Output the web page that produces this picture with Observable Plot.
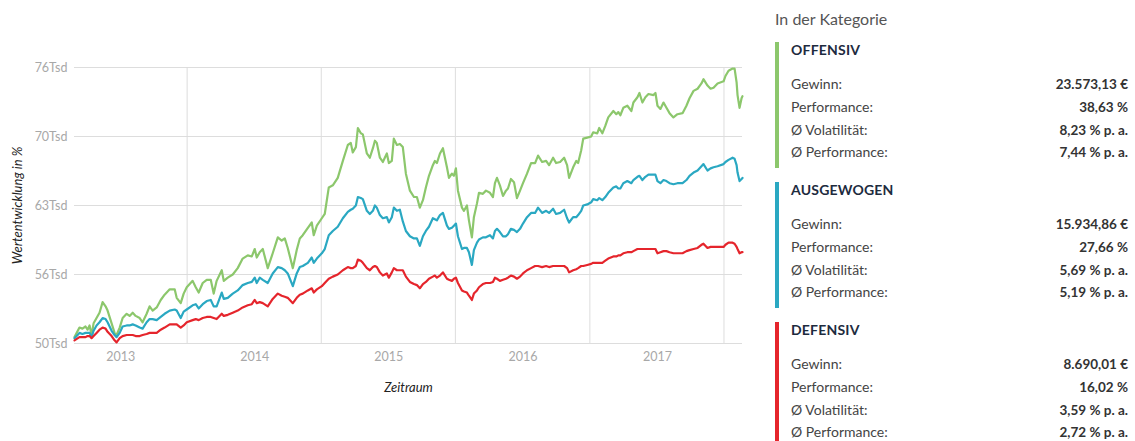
<!DOCTYPE html>
<html><head><meta charset="utf-8">
<script src="https://cdn.jsdelivr.net/npm/d3@7"></script>
<script src="https://cdn.jsdelivr.net/npm/@observablehq/plot@0.6"></script>
<style>
body{margin:0;background:#fff;font-family:Lato,"Open Sans",sans-serif;}
#wrap{position:relative;width:1135px;height:441px;overflow:hidden;background:#fff;}
#chart{position:absolute;left:0;top:0;}
#panel{position:absolute;left:775px;top:0;width:353px;height:441px;}
#panel .title{position:absolute;left:0;top:9px;font-size:16px;color:#555;}
#panel .block{position:absolute;left:0;width:349px;height:126px;border-left:4px solid #000;}
#panel .head{position:absolute;left:12px;top:0;line-height:16px;font-size:14px;font-weight:700;color:#1d2b3e;letter-spacing:0.2px;}
#panel .row{position:absolute;left:12px;right:0;height:22px;line-height:22px;display:flex;justify-content:space-between;font-size:14px;}
#panel .lab{color:#444;}
#panel .val{color:#333;font-weight:700;font-size:13.5px;}
g[aria-label="y-axis label"] text, g[aria-label="x-axis label"] text{fill:#222;font-style:italic;font-size:13px;}
</style>
</head><body>
<div id="wrap"><div id="chart"></div><div id="panel"></div></div>
<script>
// Dates as decimal years
const dates = [
2012.657, 2012.694, 2012.716, 2012.739, 2012.754, 2012.769, 2012.784, 2012.799, 2012.821, 2012.843,
2012.866, 2012.888, 2012.903, 2012.933, 2012.955, 2012.970, 2012.993, 2013.015, 2013.045, 2013.067,
2013.090, 2013.112, 2013.142, 2013.164, 2013.194, 2013.216, 2013.239, 2013.269, 2013.299, 2013.328,
2013.366, 2013.403, 2013.418, 2013.448, 2013.470, 2013.493, 2013.537, 2013.560, 2013.582, 2013.612,
2013.642, 2013.672, 2013.694, 2013.716, 2013.754, 2013.769, 2013.799, 2013.836, 2013.873, 2013.910,
2013.948, 2013.978, 2014.000, 2014.015, 2014.037, 2014.060, 2014.097, 2014.134, 2014.172, 2014.201,
2014.224, 2014.246, 2014.284, 2014.313, 2014.336, 2014.358, 2014.396, 2014.425, 2014.440, 2014.463,
2014.500, 2014.522, 2014.552, 2014.582, 2014.619, 2014.657, 2014.694, 2014.716, 2014.731, 2014.754,
2014.769, 2014.791, 2014.806, 2014.836, 2014.858, 2014.881, 2014.896, 2014.910, 2014.933, 2014.955,
2014.985, 2015.000, 2015.022, 2015.037, 2015.060, 2015.082, 2015.104, 2015.127, 2015.157, 2015.187,
2015.209, 2015.231, 2015.254, 2015.276, 2015.299, 2015.328, 2015.343, 2015.358, 2015.381, 2015.403,
2015.433, 2015.448, 2015.470, 2015.485, 2015.500, 2015.515, 2015.545, 2015.560, 2015.582, 2015.597,
2015.619, 2015.634, 2015.657, 2015.672, 2015.701, 2015.724, 2015.754, 2015.776, 2015.791, 2015.806,
2015.828, 2015.851, 2015.873, 2015.888, 2015.910, 2015.933, 2015.955, 2015.978, 2016.000, 2016.030,
2016.060, 2016.090, 2016.112, 2016.142, 2016.172, 2016.194, 2016.224, 2016.246, 2016.276, 2016.306,
2016.328, 2016.343, 2016.373, 2016.396, 2016.410, 2016.433, 2016.448, 2016.478, 2016.507, 2016.522,
2016.552, 2016.567, 2016.590, 2016.612, 2016.634, 2016.672, 2016.694, 2016.709, 2016.724, 2016.746,
2016.776, 2016.806, 2016.821, 2016.851, 2016.866, 2016.888, 2016.910, 2016.933, 2016.970, 2016.985,
2017.000, 2017.022, 2017.045, 2017.067, 2017.090, 2017.119, 2017.149, 2017.187, 2017.216, 2017.239,
2017.269, 2017.299, 2017.328, 2017.343, 2017.373, 2017.396, 2017.418, 2017.448, 2017.493, 2017.507,
2017.530, 2017.560, 2017.575, 2017.590, 2017.597, 2017.612, 2017.627, 2017.634
];
// Values in thousand euros (Tsd)
const offensiv = [
50.6, 51.5, 51.4, 51.6, 51.3, 51.7, 50.8, 51.9, 52.4, 52.9,
53.9, 53.5, 53.1, 51.9, 51.0, 50.8, 51.5, 52.4, 52.8, 52.6,
52.9, 52.6, 52.4, 52.0, 52.8, 53.5, 53.1, 53.4, 54.1, 54.6,
55.1, 55.1, 54.3, 53.8, 54.7, 55.3, 55.9, 55.3, 54.8, 55.7,
56.0, 56.0, 54.7, 55.9, 56.9, 55.9, 56.2, 56.5, 57.1, 58.0,
58.3, 58.2, 58.9, 58.1, 58.6, 58.9, 57.1, 58.5, 60.0, 59.7,
59.9, 59.0, 57.1, 58.8, 59.9, 60.2, 60.9, 61.4, 60.2, 61.1,
61.8, 62.2, 64.7, 64.9, 65.6, 67.2, 68.7, 68.9, 68.0, 68.5,
70.3, 69.8, 69.7, 67.9, 67.5, 68.4, 69.1, 68.9, 67.5, 67.1,
67.9, 67.0, 67.2, 69.3, 68.7, 68.8, 68.5, 66.0, 64.4, 63.8,
63.8, 62.8, 63.5, 64.7, 65.8, 66.8, 67.2, 67.0, 67.9, 68.4,
66.6, 65.6, 66.0, 65.8, 66.5, 64.4, 62.8, 62.5, 63.0, 61.6,
60.0, 61.9, 63.2, 64.2, 64.1, 64.4, 64.2, 63.8, 65.1, 65.6,
64.9, 63.9, 64.4, 64.6, 65.5, 65.2, 63.7, 64.4, 65.1, 66.0,
67.0, 67.0, 67.7, 67.1, 67.2, 66.8, 67.5, 67.0, 67.1, 67.5,
66.8, 65.6, 66.6, 67.2, 67.0, 68.2, 69.3, 69.4, 69.5, 69.9,
69.8, 70.3, 69.8, 70.5, 71.3, 71.9, 71.6, 71.8, 71.5, 72.2,
72.4, 71.9, 72.7, 73.2, 73.6, 72.7, 73.2, 73.5, 73.4, 73.6,
72.4, 72.1, 72.7, 72.2, 71.7, 71.3, 71.6, 71.7, 72.4, 73.1,
73.8, 74.0, 74.5, 74.9, 74.3, 74.0, 74.1, 74.5, 74.7, 75.2,
75.7, 75.9, 75.9, 74.6, 73.4, 72.2, 73.1, 73.3
];
const ausgewogen = [
50.5, 51.0, 50.9, 51.0, 51.0, 51.0, 50.6, 51.2, 51.7, 52.0,
52.4, 52.3, 52.0, 51.2, 50.8, 50.6, 51.0, 51.6, 51.7, 51.7,
51.8, 51.7, 51.5, 51.4, 52.0, 52.3, 52.3, 52.2, 52.5, 52.8,
53.1, 53.2, 53.1, 52.4, 53.0, 53.2, 53.6, 53.7, 53.3, 53.7,
54.0, 54.1, 53.5, 53.5, 54.8, 54.2, 54.3, 54.7, 55.0, 55.5,
55.7, 55.8, 56.2, 55.7, 56.2, 56.0, 55.7, 56.6, 57.2, 57.1,
56.9, 56.6, 55.4, 56.6, 57.2, 57.3, 57.6, 58.1, 57.6, 58.0,
58.5, 58.9, 60.2, 60.6, 61.0, 61.8, 62.4, 62.6, 62.7, 63.0,
63.8, 63.7, 63.6, 62.5, 62.2, 62.5, 63.0, 62.8, 62.1, 61.8,
61.9, 61.4, 61.9, 62.8, 62.5, 62.6, 61.5, 60.6, 60.1, 59.9,
59.9, 59.2, 60.1, 60.6, 61.0, 61.8, 61.7, 61.6, 62.1, 62.3,
61.1, 60.8, 60.9, 61.1, 61.3, 60.1, 58.9, 59.0, 59.0, 58.6,
57.4, 58.8, 59.5, 59.8, 60.0, 60.0, 60.2, 59.9, 60.6, 60.8,
60.5, 60.1, 60.1, 60.3, 60.8, 60.7, 60.5, 60.8, 61.3, 61.9,
62.3, 62.3, 62.8, 62.3, 62.5, 62.3, 62.7, 62.2, 62.3, 62.6,
61.8, 61.4, 61.9, 61.9, 62.1, 62.5, 63.0, 63.1, 63.3, 63.6,
63.5, 63.7, 63.5, 63.8, 64.2, 64.7, 64.8, 64.6, 64.6, 65.1,
65.3, 65.1, 65.4, 65.7, 65.8, 65.4, 65.7, 65.9, 65.9, 65.9,
65.3, 65.1, 65.4, 65.3, 65.1, 65.0, 65.1, 65.1, 65.4, 65.8,
66.1, 66.3, 66.7, 66.9, 66.3, 66.5, 66.6, 66.7, 66.9, 67.1,
67.3, 67.5, 67.4, 66.8, 66.1, 65.3, 65.5, 65.6
];
const defensiv = [
50.3, 50.6, 50.6, 50.6, 50.7, 50.7, 50.5, 50.7, 51.0, 51.3,
51.5, 51.4, 51.1, 50.7, 50.3, 50.1, 50.5, 50.7, 50.8, 50.8,
50.8, 50.7, 50.7, 50.8, 50.9, 51.0, 51.0, 51.0, 51.3, 51.5,
51.8, 51.8, 51.8, 51.5, 51.7, 52.0, 52.2, 52.3, 52.2, 52.4,
52.5, 52.5, 52.4, 52.3, 52.8, 52.6, 52.7, 52.9, 53.1, 53.4,
53.6, 53.7, 54.1, 53.8, 53.9, 53.8, 53.5, 54.2, 54.7, 54.5,
54.4, 54.3, 53.8, 54.3, 54.6, 54.7, 55.0, 55.2, 54.8, 55.1,
55.4, 55.7, 56.1, 56.3, 56.5, 56.9, 57.2, 57.1, 57.1, 57.3,
57.9, 57.8, 57.6, 57.1, 56.9, 57.2, 57.3, 57.2, 56.7, 56.4,
56.6, 56.2, 56.7, 57.1, 56.9, 56.9, 56.9, 56.3, 55.8, 55.6,
55.5, 55.2, 55.6, 55.8, 56.1, 56.3, 56.4, 56.2, 56.4, 56.7,
56.1, 56.0, 55.9, 56.1, 56.2, 55.7, 55.0, 54.9, 54.8, 54.5,
54.1, 54.7, 55.0, 55.3, 55.6, 55.7, 55.7, 55.8, 56.2, 56.1,
55.9, 56.0, 56.1, 56.2, 56.4, 56.3, 56.1, 56.3, 56.6, 56.9,
57.1, 57.3, 57.3, 57.2, 57.3, 57.2, 57.3, 57.3, 57.3, 57.3,
57.1, 56.7, 56.9, 57.0, 57.1, 57.3, 57.3, 57.4, 57.5, 57.6,
57.6, 57.6, 57.6, 57.8, 58.0, 58.2, 58.2, 58.3, 58.3, 58.5,
58.6, 58.6, 58.7, 58.9, 58.9, 58.9, 58.9, 58.9, 58.9, 58.9,
58.5, 58.6, 58.7, 58.7, 58.6, 58.5, 58.5, 58.5, 58.7, 58.8,
58.9, 59.0, 59.3, 59.4, 59.0, 59.1, 59.1, 59.1, 59.1, 59.3,
59.5, 59.5, 59.4, 59.1, 58.9, 58.5, 58.6, 58.6
];

const categories = ["OFFENSIV", "AUSGEWOGEN", "DEFENSIV"];
const colors = ["#8cc76c", "#2aa8c2", "#e5252c"];
const seriesValues = [offensiv, ausgewogen, defensiv];

const yTicks = [50, 56.5, 63, 69.5, 76];
const yTickLabels = ["50Tsd", "56Tsd", "63Tsd", "70Tsd", "76Tsd"];
const xTickYears = [2013, 2014, 2015, 2016, 2017];

const statLabels = ["Gewinn:", "Performance:", "Ø Volatilität:", "Ø Performance:"];
const gewinn = ["23.573,13 €", "15.934,86 €", "8.690,01 €"];
const performance = ["38,63 %", "27,66 %", "16,02 %"];
const volatilitaet = ["8,23 % p. a.", "5,69 % p. a.", "3,59 % p. a."];
const performancePa = ["7,44 % p. a.", "5,19 % p. a.", "2,72 % p. a."];
const panelTitle = "In der Kategorie";

// helpers
const toDate = y => {
  const yr = Math.floor(y);
  const s = Date.UTC(yr, 0, 1), e = Date.UTC(yr + 1, 0, 1);
  return new Date(s + (y - yr) * (e - s));
};
const rows = [];
categories.forEach((name, k) => {
  dates.forEach((d, i) => rows.push({date: toDate(d), value: seriesValues[k][i], name}));
});
const yLabelMap = new Map(yTicks.map((t, i) => [t, yTickLabels[i]]));
const xTicks = xTickYears.map(y => new Date(Date.UTC(y, 0, 1)));
const xGrid = xTickYears.map(y => new Date(Date.UTC(y, 6, 1)));

const chart = Plot.plot({
  width: 760, height: 441,
  marginLeft: 74, marginRight: 18, marginTop: 67, marginBottom: 98,
  x: {type: "utc", domain: [toDate(dates[0]), toDate(dates[dates.length - 1])]},
  y: {domain: [50, 76]},
  color: {domain: categories, range: colors},
  style: {fontFamily: "Lato, 'Open Sans', sans-serif", fontSize: "12.5px", color: "#a8a8a8", background: "#fff"},
  marks: [
    Plot.gridY(yTicks, {stroke: "#dddddd", strokeOpacity: 1}),
    Plot.gridX(xGrid, {stroke: "#dddddd", strokeOpacity: 1}),
    Plot.axisY(yTicks, {tickFormat: d => yLabelMap.get(d), tickSize: 0, tickPadding: 7,
      label: "Wertentwicklung in %", labelAnchor: "center", labelArrow: "none", labelOffset: 62}),
    Plot.axisX(xTicks, {tickFormat: d => String(d.getUTCFullYear()), tickSize: 0, tickPadding: 9,
      label: "Zeitraum", labelAnchor: "center", labelArrow: "none", labelOffset: 48}),
    Plot.line(rows, {x: "date", y: "value", z: "name", stroke: "name", strokeWidth: 2.2, strokeLinejoin: "round"})
  ]
});
document.getElementById("chart").appendChild(chart);

// panel
const panel = d3.select("#panel");
panel.append("div").attr("class", "title").text(panelTitle);
const statCols = [gewinn, performance, volatilitaet, performancePa];
categories.forEach((name, k) => {
  const b = panel.append("div").attr("class", "block")
    .style("top", (42 + 140 * k) + "px")
    .style("border-left-color", colors[k]);
  b.append("div").attr("class", "head").text(name);
  const offs = [31, 54, 77, 99];
  statLabels.forEach((lab, j) => {
    const r = b.append("div").attr("class", "row").style("top", offs[j] + "px");
    r.append("span").attr("class", "lab").text(lab);
    r.append("span").attr("class", "val").text(statCols[j][k]);
  });
});
</script>
</body></html>
